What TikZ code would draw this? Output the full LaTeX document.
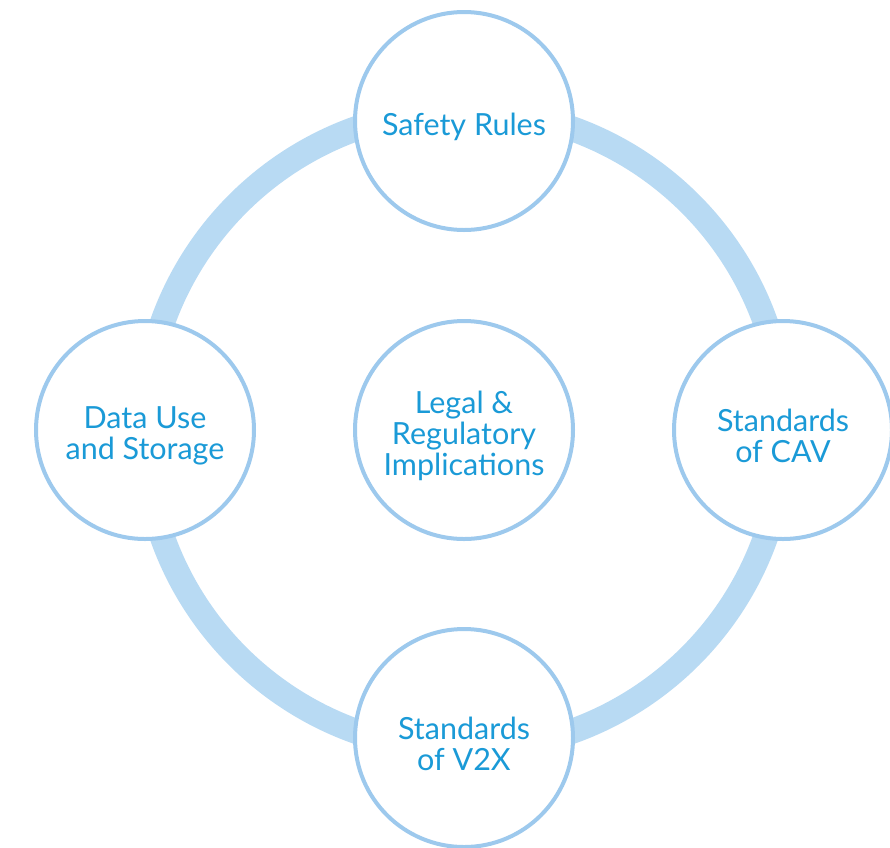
\documentclass[tikz,border=0pt]{standalone}
\usepackage{fontspec}
\setmainfont{Lato}
\definecolor{ringc}{HTML}{B8DAF3}
\definecolor{edgec}{HTML}{9DC9ED}
\definecolor{textc}{HTML}{1A9AD7}
\begin{document}
\begin{tikzpicture}[x=1pt,y=-1pt,
  topic/.style={circle,draw=edgec,line width=4pt,fill=white,minimum size=218pt,inner sep=0pt},
  topictext/.style={text=textc,align=center,inner sep=0pt,font=\fontsize{30.5}{31}\selectfont}]
\useasboundingbox (0,0) rectangle (890,847);
\coordinate (c) at (464,430);
\draw[ringc,line width=25pt] (c) circle[radius=320];
\node[topic] (top) at (464,121) {};
\node[topic] (right) at (783,430) {};
\node[topic] (bottom) at (464,738) {};
\node[topic] (left) at (145,430) {};
\node[topic] (center) at (464,430) {};
\node[topictext] (top-t) at ([yshift=-6pt]top.center) {Safety Rules};
\node[topictext] (right-t) at ([yshift=-6pt]right.center) {Standards\\of CAV};
\node[topictext] (bottom-t) at ([yshift=-6pt]bottom.center) {Standards\\of V2X};
\node[topictext] (left-t) at ([yshift=-6pt]left.center) {Data Use\\and Storage};
\node[topictext] (center-t) at ([yshift=-6pt]center.center) {Legal \&\\Regulatory\\Implications};
\end{tikzpicture}
\end{document}
